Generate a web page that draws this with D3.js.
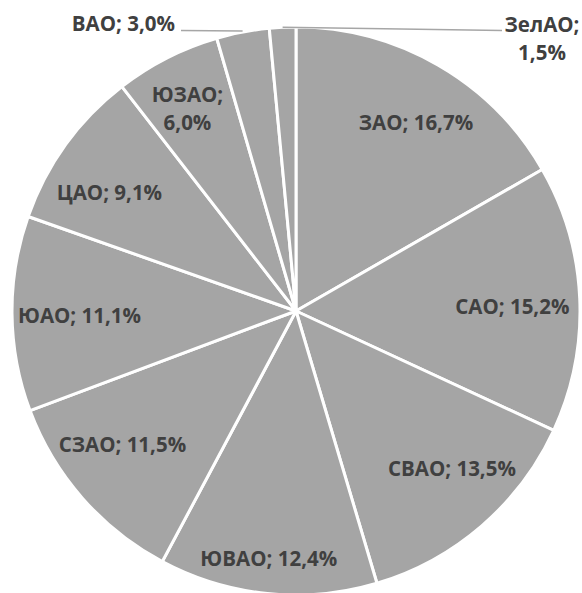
<!DOCTYPE html>
<html>
<head>
<meta charset="utf-8">
<script src="https://cdn.jsdelivr.net/npm/d3@7"></script>
<style>
  html, body { margin: 0; padding: 0; background: #fff; }
  svg { display: block; }
  text { font-family: "Open Sans", Lato, sans-serif; font-weight: 700; fill: #404040; }
</style>
</head>
<body>
<svg id="chart" width="582" height="593"></svg>
<script>
// Districts, clockwise from 12 o'clock
const districts = ["ЗАО", "САО", "СВАО", "ЮВАО", "СЗАО", "ЮАО", "ЦАО", "ЮЗАО", "ВАО", "ЗелАО"];
// Share of each district, %
const shares = [16.7, 15.2, 13.5, 12.4, 11.5, 11.1, 9.1, 6.0, 3.0, 1.5];

// Label layout: nudge from the point at 0.78 r along the slice's middle angle
const labelNudge = {
  "ЗАО": [9, 4], "САО": [-5, 6], "СВАО": [11, -10], "ЮВАО": [-5, 27],
  "СЗАО": [-7, -12], "ЮАО": [5, 3], "ЦАО": [-7, 11], "ЮЗАО": [-8, -5]
};

const cx = 296, cy = 311, r = 284;
const FS = 20.5, LINE = 28;
const fmt = v => v.toFixed(1).replace(".", ",") + "%";

const svg = d3.select("#chart");
const g = svg.append("g").attr("transform", `translate(${cx},${cy})`);

const data = districts.map((name, i) => ({ name, value: shares[i] }));
const arcs = d3.pie().value(d => d.value).sort(null)(data);
const arc = d3.arc().innerRadius(0).outerRadius(r);

g.selectAll("path.slice")
  .data(arcs)
  .join("path")
  .attr("class", "slice")
  .attr("d", arc)
  .attr("fill", "#a5a5a5")
  .attr("stroke", "#fff")
  .attr("stroke-width", 3)
  .attr("stroke-linejoin", "round");

const polar = (a, rad) => [Math.sin(a) * rad, -Math.cos(a) * rad];
const midAngle = d => (d.startAngle + d.endAngle) / 2;

// Labels inside the slices
arcs.forEach(d => {
  const nudge = labelNudge[d.data.name];
  if (!nudge) return;
  const [bx, by] = polar(midAngle(d), r * 0.78);
  const x = bx + nudge[0], y = by + nudge[1];
  const t = g.append("text").attr("text-anchor", "middle").attr("font-size", FS);
  if (d.data.name === "ЮЗАО") {
    t.append("tspan").attr("x", x).attr("y", y - LINE / 2).attr("dy", "0.35em").text(d.data.name + ";");
    t.append("tspan").attr("x", x).attr("y", y + LINE / 2).attr("dy", "0.35em").text(fmt(d.data.value));
  } else {
    t.attr("x", x).attr("y", y).attr("dy", "0.35em").text(d.data.name + "; " + fmt(d.data.value));
  }
});

// Outside labels with leader lines for the two thinnest slices
const leader = "#a6a6a6";
const vao = arcs.find(d => d.data.name === "ВАО");
{
  const [ax, ay] = polar(midAngle(vao), r + 1);
  const lx = 181 - cx, ly = 30.5 - cy;
  g.append("line").attr("x1", lx).attr("y1", ly).attr("x2", ax).attr("y2", ay)
    .attr("stroke", leader).attr("stroke-width", 1.5);
  g.append("text").attr("x", 175 - cx).attr("y", 24 - cy).attr("dy", "0.35em")
    .attr("text-anchor", "end").attr("font-size", FS)
    .text(vao.data.name + "; " + fmt(vao.data.value));
}
const zel = arcs.find(d => d.data.name === "ЗелАО");
{
  const [ax, ay] = polar(midAngle(zel), r);
  const lx = 502 - cx, ly = 30.5 - cy;
  g.append("line").attr("x1", ax).attr("y1", ay).attr("x2", lx).attr("y2", ly)
    .attr("stroke", leader).attr("stroke-width", 1.5);
  const t = g.append("text").attr("text-anchor", "middle").attr("font-size", FS);
  t.append("tspan").attr("x", 542 - cx).attr("y", 25 - cy).attr("dy", "0.35em").text(zel.data.name + ";");
  t.append("tspan").attr("x", 542 - cx).attr("y", 25 + LINE - cy).attr("dy", "0.35em").text(fmt(zel.data.value));
}
</script>
</body>
</html>
